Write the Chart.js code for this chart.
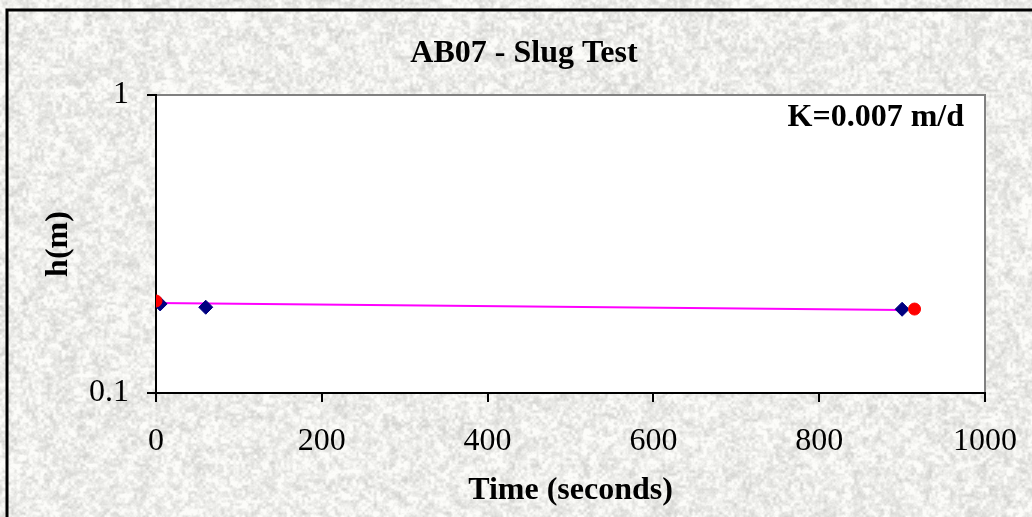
<!DOCTYPE html>
<html>
<head>
<meta charset="utf-8">
<title>AB07 - Slug Test</title>
<script src="https://cdn.jsdelivr.net/npm/chart.js@4.4.1/dist/chart.umd.min.js"></script>
<style>
  html, body { margin: 0; padding: 0; overflow: hidden; background: #e8e8e5; }
  #wrap { width: 1032px; height: 517px; position: relative; }
</style>
</head>
<body>
<div id="wrap"><canvas id="slugChart"></canvas></div>
<script>
// measured head (m) against time (s)
const obsTime = [5, 60, 900];
const obsHead = [0.199, 0.194, 0.191];
// red end points of the fitted range
const endTime = [0, 915];
const endHead = [0.2036, 0.1913];
// fitted line
const fitTime = [0, 900];
const fitHead = [0.2004, 0.190];
const xTicks = [0, 200, 400, 600, 800, 1000];
const yTicks = [0.1, 1];
const chartTitle = 'AB07 - Slug Test';
const kLabel = 'K=0.007 m/d';

const serif = "'Liberation Serif', 'Times New Roman', serif";
Chart.defaults.font.family = serif;
Chart.defaults.color = '#000';

// granite-like paper texture, built once (deterministic hash noise)
function hash(x, y, seed) {
    let h = (Math.imul(x, 374761393) + Math.imul(y, 668265263) + Math.imul(seed, 982451653)) | 0;
    h = Math.imul(h ^ (h >>> 13), 1274126177);
    h ^= h >>> 16;
    return (h >>> 0) / 4294967295;
}
function vnoise(x, y, s, seed) {
    const gx = Math.floor(x / s), gy = Math.floor(y / s);
    const fx = x / s - gx, fy = y / s - gy;
    const a = hash(gx, gy, seed), b = hash(gx + 1, gy, seed);
    const c = hash(gx, gy + 1, seed), d = hash(gx + 1, gy + 1, seed);
    const ux = fx * fx * (3 - 2 * fx), uy = fy * fy * (3 - 2 * fy);
    return a + (b - a) * ux + (c - a) * uy + (a - b - c + d) * ux * uy;
}
const grain = document.createElement('canvas');
grain.width = 1032;
grain.height = 517;
(function () {
    const g = grain.getContext('2d');
    const img = g.createImageData(grain.width, grain.height);
    for (let y = 0; y < grain.height; y++) {
        for (let x = 0; x < grain.width; x++) {
            const v = 0.5 * vnoise(x, y, 3, 1) + 0.3 * vnoise(x, y, 8, 2) + 0.2 * vnoise(x, y, 1.5, 3);
            const c = Math.max(175, Math.min(252, 237 + (v - 0.5) * 70));
            const i = (y * grain.width + x) * 4;
            img.data[i] = c;
            img.data[i + 1] = c;
            img.data[i + 2] = c - 3;
            img.data[i + 3] = 255;
        }
    }
    g.putImageData(img, 0, 0);
})();

const backdrop = {
    id: 'backdrop',
    beforeDraw(chart) {
        const { ctx, chartArea: a } = chart;
        ctx.save();
        ctx.drawImage(grain, 0, 0);
        ctx.fillStyle = '#fff';
        ctx.fillRect(a.left, a.top, a.right - a.left, a.bottom - a.top);
        // grey frame on top and right of the plot
        ctx.strokeStyle = '#808080';
        ctx.lineWidth = 2;
        ctx.beginPath();
        ctx.moveTo(a.left, a.top);
        ctx.lineTo(a.right, a.top);
        ctx.lineTo(a.right, a.bottom);
        ctx.stroke();
        // outer chart border
        ctx.strokeStyle = '#000';
        ctx.lineWidth = 3;
        ctx.beginPath();
        ctx.moveTo(chart.width + 10, 10);
        ctx.lineTo(7, 10);
        ctx.lineTo(7, chart.height + 10);
        ctx.stroke();
        ctx.restore();
    },
    afterDraw(chart) {
        const { ctx, chartArea: a } = chart;
        ctx.save();
        ctx.fillStyle = '#000';
        ctx.font = 'bold 32px ' + serif;
        ctx.textBaseline = 'alphabetic';
        ctx.textAlign = 'center';
        ctx.fillText(chartTitle, 524, 62);
        ctx.textAlign = 'right';
        ctx.fillText(kLabel, a.right - 21, a.top + 31);
        ctx.restore();
    }
};

const axisGrid = { drawOnChartArea: false, color: '#000', lineWidth: 2, tickLength: 9 };
const axisBorder = { color: '#000', width: 2 };

const ctx = document.getElementById('slugChart').getContext('2d');
const slugChart = new Chart(ctx, {
    type: 'scatter',
    data: {
        datasets: [
            {
                label: 'End points',
                data: endTime.map((t, i) => ({ x: t, y: endHead[i] })),
                pointStyle: 'circle',
                pointRadius: 6,
                backgroundColor: '#ff0000',
                borderColor: '#ff0000',
                borderWidth: 1,
                order: 1
            },
            {
                label: 'Observed',
                data: obsTime.map((t, i) => ({ x: t, y: obsHead[i] })),
                pointStyle: 'rectRot',
                pointRadius: 7,
                backgroundColor: '#000080',
                borderColor: '#000080',
                borderWidth: 1,
                order: 2
            },
            {
                label: 'Fit',
                data: fitTime.map((t, i) => ({ x: t, y: fitHead[i] })),
                showLine: true,
                pointRadius: 0,
                borderColor: '#ff00ff',
                borderWidth: 2,
                order: 3
            }
        ]
    },
    options: {
        responsive: true,
        maintainAspectRatio: false,
        animation: false,
        layout: { padding: { top: 95, right: 47, bottom: 0, left: 0 } },
        plugins: {
            legend: { display: false },
            tooltip: { enabled: false }
        },
        scales: {
            x: {
                type: 'linear',
                min: 0,
                max: 1000,
                afterBuildTicks: s => { s.ticks = xTicks.map(v => ({ value: v })); },
                afterFit: s => { s.height = 124; s.paddingLeft = 0; s.paddingRight = 0; },
                ticks: { font: { size: 32 }, padding: 20, maxRotation: 0, callback: v => String(v) },
                grid: axisGrid,
                border: axisBorder,
                title: {
                    display: true,
                    text: 'Time (seconds)',
                    font: { size: 32, weight: 'bold' },
                    padding: { top: 0, bottom: 6.6 }
                }
            },
            y: {
                type: 'logarithmic',
                min: 0.1,
                max: 1,
                afterBuildTicks: s => { s.ticks = yTicks.map(v => ({ value: v })); },
                afterFit: s => { s.width = 156; s.paddingTop = 0; s.paddingBottom = 0; },
                ticks: { font: { size: 32 }, padding: 18, callback: v => String(v) },
                grid: axisGrid,
                border: axisBorder,
                title: {
                    display: true,
                    text: 'h(m)',
                    font: { size: 32, weight: 'bold' },
                    padding: { top: 39.8, bottom: 0 }
                }
            }
        }
    },
    plugins: [backdrop]
});
</script>
</body>
</html>
